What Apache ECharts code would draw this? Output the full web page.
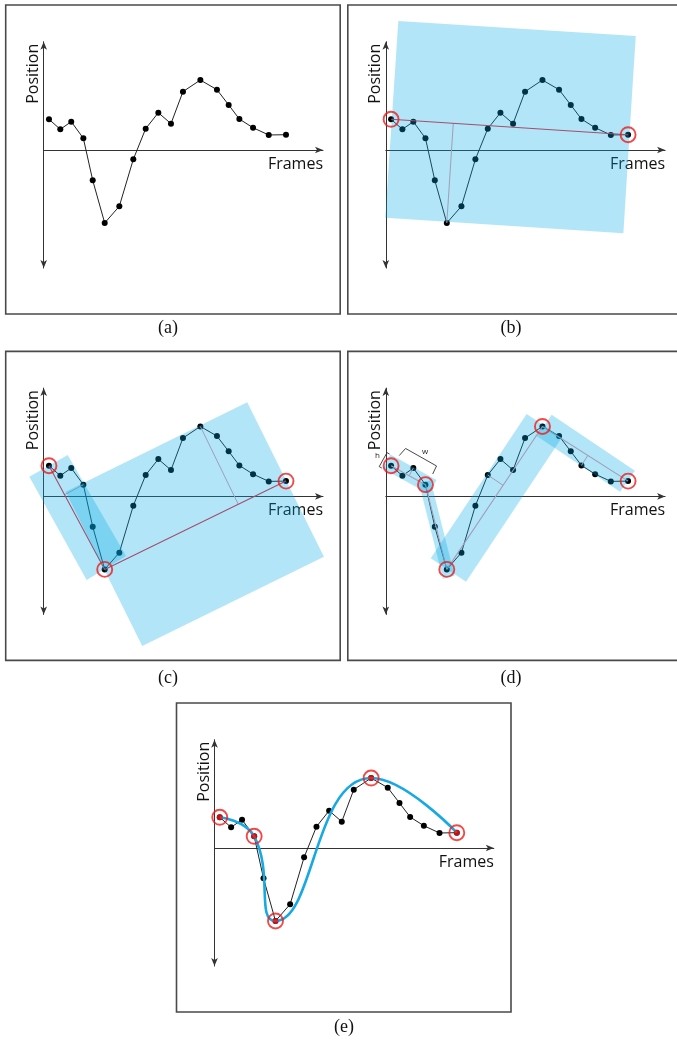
<!DOCTYPE html>
<html><head><meta charset="utf-8">
<script src="https://cdn.jsdelivr.net/npm/echarts@6/dist/echarts.min.js"></script>
<style>html,body{margin:0;padding:0;background:#fff}#c{width:677px;height:1042px}</style>
</head><body><div id="c"></div>
<script>
// ---------- data (frames / position) ----------
const frames    = [0.40,1.26,2.09,3.01,3.72,4.63,5.74,6.80,7.74,8.70,9.66,10.57,11.89,13.15,14.04,14.85,15.89,17.08,18.39];
const positions = [2.33,1.57,2.15,0.89,-2.30,-5.54,-4.27,-0.71,1.62,2.83,2.00,4.43,5.31,4.58,3.42,2.35,1.69,1.14,1.16];
const panelLabels = ['(a)','(b)','(c)','(d)','(e)'];
const xAxisName = 'Frames';
const yAxisName = 'Position';
const xRange = [0, 21.2];
const yRange = [-8.96, 8.22];
// key points (indices) per panel
const keysB = [0,18];
const keysC = [0,5,18];
const keysD = [0,3,5,12,18];
const keysE = [0,3,5,12,18];
// fitted bands (rectangle corners, data units)
const bandsB = [[0.95,9.79, 18.97,8.65, 18.03,-6.32, -0.04,-5.14]];
const bandsC = [[-1.09,1.50, 1.82,3.14, 6.25,-4.52, 3.26,-6.35],
                [1.66,0.36, 15.45,7.14, 21.27,-4.58, 7.48,-11.35]];
const bandsD = [[0.35,3.18, 3.85,1.25, 3.24,0.20, -0.24,2.11],
                [3.40,1.22, 5.22,-6.02, 4.34,-6.25, 2.52,0.99],
                [3.41,-4.70, 10.69,6.25, 13.37,4.48, 6.09,-6.47],
                [12.59,6.19, 18.91,1.95, 17.78,0.36, 11.45,4.58]];
// h / w annotation brackets in panel (d)
const bracketNames = ['h','w'];
const bracketPaths = [[[-0.30,2.15],[-0.50,2.26],[0.09,3.32],[0.29,3.21]],
                      [[1.02,3.10],[1.50,3.64],[3.85,2.31],[3.56,1.70]]];
const bracketLabelAt = [[-0.63,3.07],[2.98,3.37]];

// ---------- layout ----------
const K = 13.175; // px per data unit (equal aspect)
const origins = [[43.7,150],[385.8,150],[43.7,496.4],[385.8,496.4],[214.5,848]];
const captionPos = [[168,328],[511,328],[168,678],[511,678],[344,1027]];

const pts = frames.map((f,i)=>[f,positions[i]]);
const keyPts = keys => keys.map(i=>pts[i]);

function perpendiculars(keys){
  const out=[];
  for(let s=0;s<keys.length-1;s++){
    const a=keys[s], b=keys[s+1];
    if(b-a<2) continue;
    const ax=frames[a], ay=positions[a], dx=frames[b]-ax, dy=positions[b]-ay, L2=dx*dx+dy*dy;
    let best=-1, bd=-1;
    for(let i=a+1;i<b;i++){const d=Math.abs((frames[i]-ax)*dy-(positions[i]-ay)*dx); if(d>bd){bd=d;best=i;}}
    const t=((frames[best]-ax)*dx+(positions[best]-ay)*dy)/L2;
    out.push([frames[best],positions[best],ax+t*dx,ay+t*dy]);
  }
  return out;
}

const grids=[], xAxes=[], yAxes=[], series=[], graphics=[];
const axisColor='#333';
origins.forEach((o,p)=>{
  grids.push({left:o[0], top:o[1]-yRange[1]*K, width:(xRange[1]-xRange[0])*K, height:(yRange[1]-yRange[0])*K,
              outerBoundsMode:'none', containLabel:false});
  xAxes.push({type:'value', gridIndex:p, min:xRange[0], max:xRange[1],
    axisLine:{show:true,onZero:true,symbol:['none','arrow'],symbolSize:[5,8],lineStyle:{color:axisColor,width:1}},
    axisTick:{show:false}, axisLabel:{show:false}, splitLine:{show:false},
    name:xAxisName, nameLocation:'end', nameGap:0, nameMoveOverlap:false,
    nameTextStyle:{fontFamily:'Open Sans', fontSize:16, color:'#111', align:'right', verticalAlign:'top', padding:[6,0,0,0]}});
  yAxes.push({type:'value', gridIndex:p, min:yRange[0], max:yRange[1],
    axisLine:{show:true,onZero:false,symbol:['arrow','arrow'],symbolSize:[5,8],lineStyle:{color:axisColor,width:1}},
    axisTick:{show:false}, axisLabel:{show:false}, splitLine:{show:false},
    name:yAxisName, nameLocation:'end', nameGap:-2, nameRotate:90, nameMoveOverlap:false,
    nameTextStyle:{fontFamily:'Open Sans', fontSize:16, color:'#111', align:'right', verticalAlign:'bottom', padding:[0,0,2,0]}});
  graphics.push({type:'rect', shape:{x:o[0]-38, y:o[1]-145, width:334.5, height:309},
    style:{fill:'none', stroke:'#4a4a4a', lineWidth:1.6}, silent:true, z:1});
  graphics.push({type:'text', x:captionPos[p][0], y:captionPos[p][1],
    style:{text:panelLabels[p], fontFamily:'Liberation Serif', fontSize:18, fill:'#111', align:'center', verticalAlign:'middle'}});
  // data line
  series.push({type:'line', xAxisIndex:p, yAxisIndex:p, data:pts, symbol:'circle', symbolSize:6, showSymbol:true,
    itemStyle:{color:'#000'}, lineStyle:{color:'#222', width:1}, z:2, silent:true});
});

function bandSeries(p, bands){
  return {type:'custom', xAxisIndex:p, yAxisIndex:p, clip:false, silent:true, z:5, data:bands,
    encode:{x:[0,2,4,6], y:[1,3,5,7]},
    renderItem:(params, api)=>{
      const ptsArr=[0,1,2,3].map(j=>api.coord([api.value(2*j), api.value(2*j+1)]));
      return {type:'polygon', shape:{points:ptsArr}, style:{fill:'rgba(0,170,230,0.3)'}};
    }};
}
function segSeries(p, segs, color, z){
  return {type:'custom', xAxisIndex:p, yAxisIndex:p, clip:false, silent:true, z:z, data:segs,
    encode:{x:[0,2], y:[1,3]},
    renderItem:(params, api)=>{
      const a=api.coord([api.value(0),api.value(1)]), b=api.coord([api.value(2),api.value(3)]);
      return {type:'line', shape:{x1:a[0],y1:a[1],x2:b[0],y2:b[1]}, style:{stroke:color, lineWidth:1}};
    }};
}
function chordSeries(p, keys, color){
  return {type:'line', xAxisIndex:p, yAxisIndex:p, data:keyPts(keys), symbol:'none',
    lineStyle:{color:color, width:1.1}, z:3, silent:true};
}
function circleSeries(p, keys){
  return {type:'scatter', xAxisIndex:p, yAxisIndex:p, data:keyPts(keys), symbol:'circle', symbolSize:15,
    itemStyle:{color:'rgba(0,0,0,0)', borderColor:'#ee1c1c', borderWidth:1.9}, z:10, silent:true};
}
const pink='#e59aa6', red='#e8283a';
// (b)
series.push(chordSeries(1, keysB, red));
series.push(segSeries(1, perpendiculars(keysB), pink, 3));
series.push(bandSeries(1, bandsB));
series.push(circleSeries(1, keysB));
// (c)
series.push(chordSeries(2, keysC, red));
series.push(segSeries(2, perpendiculars(keysC), pink, 3));
series.push(bandSeries(2, bandsC));
series.push(circleSeries(2, keysC));
// (d)
series.push(chordSeries(3, keysD, pink));
series.push(segSeries(3, perpendiculars(keysD), pink, 3));
series.push(bandSeries(3, bandsD));
series.push(circleSeries(3, keysD));
series.push({type:'custom', xAxisIndex:3, yAxisIndex:3, clip:false, silent:true, z:8,
  data:bracketNames.map((n,i)=>[bracketLabelAt[i][0], bracketLabelAt[i][1]]),
  renderItem:(params, api)=>{
    const i=params.dataIndex;
    const path=bracketPaths[i].map(q=>api.coord(q));
    const lp=api.coord([api.value(0),api.value(1)]);
    return {type:'group', children:[
      {type:'polyline', shape:{points:path}, style:{stroke:'#333', lineWidth:0.9, fill:null}},
      {type:'text', x:lp[0], y:lp[1], style:{text:bracketNames[i], fontFamily:'Open Sans', fontSize:8, fill:'#222', align:'center', verticalAlign:'middle'}}
    ]};
  }});
// (e)
series.push({type:'line', xAxisIndex:4, yAxisIndex:4, data:keyPts(keysE), smooth:0.5, symbol:'none',
  lineStyle:{color:'#18a9e3', width:2.6}, z:6, silent:true});
series.push(circleSeries(4, keysE));
series.push({type:'scatter', xAxisIndex:4, yAxisIndex:4, data:keyPts(keysE), symbol:'circle', symbolSize:6,
  itemStyle:{color:'#f01414'}, z:11, silent:true});

const chart = echarts.init(document.getElementById('c'), null, {renderer:'canvas'});
chart.setOption({animation:false, backgroundColor:'#fff', grid:grids, xAxis:xAxes, yAxis:yAxes, series:series, graphic:graphics});
</script></body></html>
